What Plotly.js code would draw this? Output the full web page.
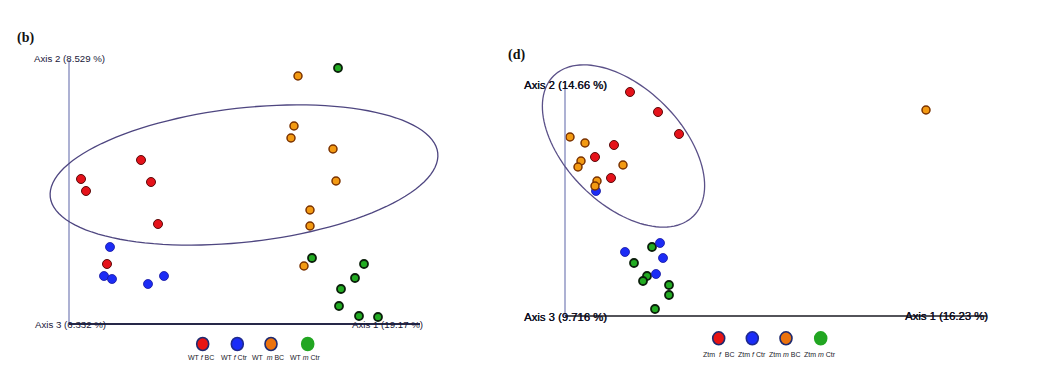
<!DOCTYPE html>
<html>
<head>
<meta charset="utf-8">
<script src="https://cdn.plot.ly/plotly-3.0.1.min.js"></script>
<style>html,body{margin:0;padding:0;background:#fff;}#chart{width:1042px;height:369px;}</style>
</head>
<body>
<div id="chart"></div>
<script>
// ---- Panel (b): WT samples (PCoA coordinates, arbitrary units) ----
var bGroups = ["WT f BC", "WT f Ctr", "WT m BC", "WT m Ctr"];
var bRedX = [0.72, 0.12, 0.17, 0.82, 0.89, 0.38];
var bRedY = [1.64, 1.45, 1.33, 1.42, 1.00, 0.60];
var bBlueX = [0.41, 0.35, 0.43, 0.79, 0.95];
var bBlueY = [0.77, 0.48, 0.45, 0.40, 0.48];
var bOrangeX = [2.29, 2.25, 2.22, 2.64, 2.67, 2.41, 2.41, 2.35];
var bOrangeY = [2.48, 1.98, 1.86, 1.75, 1.43, 1.14, 0.98, 0.58];
var bGreenX = [2.69, 2.43, 2.95, 2.86, 2.72, 2.70, 2.90, 3.09];
var bGreenY = [2.56, 0.66, 0.60, 0.46, 0.35, 0.18, 0.08, 0.07];
var bAxisLabels = ["Axis 1 (19.17 %)", "Axis 2 (8.529 %)", "Axis 3 (6.332 %)"];
var bEllipse = [1.75, 1.49, 1.95, 0.67, 6.5]; // cx, cy, a, b, angle(deg)

// ---- Panel (d): Ztm samples ----
var dGroups = ["Ztm f BC", "Ztm f Ctr", "Ztm m BC", "Ztm m Ctr"];
var dRedX = [0.65, 0.93, 1.14, 0.49, 0.30, 0.46];
var dRedY = [2.24, 2.04, 1.82, 1.71, 1.59, 1.38];
var dBlueX = [0.31, 0.60, 0.95, 0.98, 0.91];
var dBlueY = [1.25, 0.64, 0.73, 0.58, 0.42];
var dOrangeX = [0.05, 0.20, 0.16, 0.13, 0.58, 0.32, 0.30, 3.61];
var dOrangeY = [1.79, 1.73, 1.55, 1.49, 1.51, 1.35, 1.30, 2.06];
var dGreenX = [0.87, 0.69, 0.82, 0.78, 1.04, 1.04, 0.90];
var dGreenY = [0.69, 0.53, 0.40, 0.35, 0.31, 0.21, 0.07];
var dAxisLabels = ["Axis 1 (16.23 %)", "Axis 2 (14.66 %)", "Axis 3 (9.716 %)"];
var dEllipse = [0.585, 1.70, 0.99, 0.58, -45];

var styles = {
  red:    {color: "#e5121a", line: {color: "#5a0a0a", width: 1}, size: 9},
  blue:   {color: "#1c2cf5", line: {color: "#1414a0", width: 0.8}, size: 9},
  orange: {color: "#f39a12", line: {color: "#7a3200", width: 1.5}, size: 8},
  green:  {color: "#22ac22", line: {color: "#0b200b", width: 1.8}, size: 8}
};

function tr(x, y, st, xa, ya, name) {
  return {type: "scatter", mode: "markers", x: x, y: y, xaxis: xa, yaxis: ya, name: name,
          marker: {color: st.color, size: st.size, line: st.line}, cliponaxis: false,
          showlegend: false, hoverinfo: "x+y+name"};
}

var data = [
  tr(bGreenX, bGreenY, styles.green, "x", "y", bGroups[3]),
  tr(bBlueX, bBlueY, styles.blue, "x", "y", bGroups[1]),
  tr(bRedX, bRedY, styles.red, "x", "y", bGroups[0]),
  tr(bOrangeX, bOrangeY, styles.orange, "x", "y", bGroups[2]),
  tr(dGreenX, dGreenY, styles.green, "x2", "y2", dGroups[3]),
  tr(dBlueX, dBlueY, styles.blue, "x2", "y2", dGroups[1]),
  tr(dRedX, dRedY, styles.red, "x2", "y2", dGroups[0]),
  tr(dOrangeX, dOrangeY, styles.orange, "x2", "y2", dGroups[2])
];

function ellipsePath(e) {
  var cx = e[0], cy = e[1], a = e[2], b = e[3], th = e[4] * Math.PI / 180;
  var p = "";
  for (var i = 0; i <= 120; i++) {
    var t = 2 * Math.PI * i / 120;
    var x = cx + a * Math.cos(t) * Math.cos(th) - b * Math.sin(t) * Math.sin(th);
    var y = cy + a * Math.cos(t) * Math.sin(th) + b * Math.sin(t) * Math.cos(th);
    p += (i === 0 ? "M" : "L") + x.toFixed(4) + "," + y.toFixed(4);
  }
  return p + "Z";
}

var shapes = [
  // panel (b) axes
  {type: "line", xref: "x", yref: "y", x0: 0, y0: 0, x1: 0, y1: 2.64, line: {color: "#8a90c0", width: 1.4}},
  {type: "line", xref: "x", yref: "y", x0: 0, y0: 0, x1: 3.51, y1: 0, line: {color: "#262848", width: 1.8}},
  {type: "path", xref: "x", yref: "y", path: ellipsePath(bEllipse), line: {color: "#4e4680", width: 1.3}},
  // panel (d) axes
  {type: "line", xref: "x2", yref: "y2", x0: 0, y0: 0, x1: 0, y1: 2.31, line: {color: "#8a90c0", width: 1.4}},
  {type: "line", xref: "x2", yref: "y2", x0: 0, y0: 0, x1: 4.22, y1: 0, line: {color: "#1a1a22", width: 1.5}},
  {type: "path", xref: "x2", yref: "y2", path: ellipsePath(dEllipse), line: {color: "#5a5088", width: 1.3}}
];

var legendFill = ["#e81414", "#1a2cf8", "#ec730e", "#22a622"];
var legendLine = ["#1e2a70", "#1e2a90", "#1e2a70", "#22a622"];
var bLegX = [202.7, 237.3, 271, 307.7], bLegY = 344, bLegTY = 357.5;
var bLegTX = [201, 234, 268, 305];
var dLegX = [718.7, 752.3, 786, 820.7], dLegY = 338.3, dLegTY = 354;
var dLegTX = [719, 752, 785, 820];
var bLegText = ["WT <i>f</i> BC", "WT <i>f</i> Ctr", "WT  <i>m</i> BC", "WT <i>m</i> Ctr"];
var dLegText = ["Ztm  <i>f</i>  BC", "Ztm <i>f</i> Ctr", "Ztm <i>m</i> BC", "Ztm <i>m</i> Ctr"];

function legCircle(px, py, i) {
  return {type: "circle", xref: "paper", yref: "paper", xsizemode: "pixel", ysizemode: "pixel",
          xanchor: px / 1042, yanchor: 1 - py / 369, x0: -6, x1: 6, y0: -6.5, y1: 6.5,
          fillcolor: legendFill[i], line: {color: legendLine[i], width: 1.6}};
}
for (var i = 0; i < 4; i++) {
  shapes.push(legCircle(bLegX[i], bLegY, i));
  shapes.push(legCircle(dLegX[i], dLegY, i));
}

function ann(text, x, y, xr, yr, font) {
  return {text: text, x: x, y: y, xref: xr, yref: yr, showarrow: false, xanchor: "center", yanchor: "middle", font: font};
}
var bFont = {family: "Liberation Sans, Arial, sans-serif", size: 9.7, color: "#181838"};
var dFont = {family: "Liberation Sans, Arial, sans-serif", size: 11.3, color: "#0c0c1c", shadow: "0.35px 0 0 #0c0c1c"};
var panelFont = {family: "Liberation Serif, serif", size: 14, color: "#111111"};
var annotations = [
  ann(bAxisLabels[1], 0, 2.66, "x", "y", bFont),
  ann(bAxisLabels[2], 0.01, 0, "x", "y", bFont),
  ann(bAxisLabels[0], 3.18, 0, "x", "y", bFont),
  ann(dAxisLabels[1], 0, 2.31, "x2", "y2", dFont),
  ann(dAxisLabels[2], 0, -0.005, "x2", "y2", dFont),
  ann(dAxisLabels[0], 3.81, 0, "x2", "y2", dFont),
  ann("<b>(b)</b>", 25 / 1042, 1 - 38 / 369, "paper", "paper", panelFont),
  ann("<b>(d)</b>", 516 / 1042, 1 - 55 / 369, "paper", "paper", panelFont)
];
var legFont = {family: "Liberation Sans Narrow, Liberation Sans, Arial, sans-serif", size: 7, color: "#1a1a2a"};
for (var j = 0; j < 4; j++) {
  annotations.push(ann(bLegText[j], bLegTX[j] / 1042, 1 - bLegTY / 369, "paper", "paper", legFont));
  annotations.push(ann(dLegText[j], dLegTX[j] / 1042, 1 - dLegTY / 369, "paper", "paper", legFont));
}

var hidden = {visible: false, fixedrange: true};
var layout = {
  width: 1042, height: 369,
  margin: {l: 0, r: 0, t: 0, b: 0},
  paper_bgcolor: "#ffffff", plot_bgcolor: "rgba(0,0,0,0)",
  showlegend: false,
  xaxis: Object.assign({domain: [0, 0.5], range: [-0.69, 4.52], anchor: "y"}, hidden),
  yaxis: Object.assign({domain: [0, 1], range: [-0.45, 3.24], anchor: "x"}, hidden),
  xaxis2: Object.assign({domain: [0.5, 1], range: [-0.44, 4.77], anchor: "y2"}, hidden),
  yaxis2: Object.assign({domain: [0, 1], range: [-0.53, 3.16], anchor: "x2"}, hidden),
  shapes: shapes,
  annotations: annotations
};

Plotly.newPlot("chart", data, layout, {displayModeBar: false, staticPlot: true});
</script>
</body>
</html>
